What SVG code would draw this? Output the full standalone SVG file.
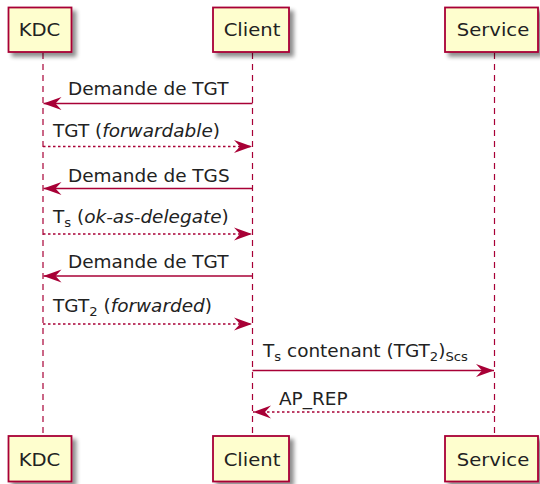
<svg xmlns="http://www.w3.org/2000/svg" width="540" height="484" viewBox="0 0 540 484">
<defs>
<filter id="sh" x="-20%" y="-20%" width="150%" height="160%">
<feGaussianBlur in="SourceAlpha" stdDeviation="2"/>
<feOffset dx="4" dy="4" result="b"/>
<feComponentTransfer><feFuncA type="linear" slope="0.45"/></feComponentTransfer>
<feMerge><feMergeNode/><feMergeNode in="SourceGraphic"/></feMerge>
</filter>
<marker id="ah" viewBox="0 0 18 14" refX="18" refY="7" markerWidth="18" markerHeight="14" markerUnits="userSpaceOnUse" orient="auto">
<polygon points="18,7 0,0.5 6,7 0,13.5" fill="#A80036"/>
</marker>
</defs>
<style>
.box{fill:#FEFECE;stroke:#A80036;stroke-width:1.8}
.life{stroke:#A80036;stroke-width:1.2;stroke-dasharray:6,5;fill:none}
.pt{font-family:"DejaVu Sans",sans-serif;font-size:18.5px;fill:#222;text-anchor:middle}
.mt{font-family:"DejaVu Sans",sans-serif;font-size:17.5px;fill:#222}
.sub{font-size:12.5px}
.sol{stroke:#A80036;stroke-width:1.3;fill:none;marker-end:url(#ah)}
.dot{stroke:#A80036;stroke-width:1.3;fill:none;stroke-dasharray:2.5,2.5;marker-end:url(#ah)}
</style>
<g id="lifelines">
<line class="life" x1="43" y1="53" x2="43" y2="436"/>
<line class="life" x1="252.5" y1="53" x2="252.5" y2="436"/>
<line class="life" x1="494.5" y1="53" x2="494.5" y2="436"/>
</g>
<g id="KDC">
<rect class="box" x="8.5" y="7.5" width="63" height="44.5" filter="url(#sh)"/>
<text class="pt" transform="translate(39.5,36) scale(1.06,1)">KDC</text>
<rect class="box" x="8.5" y="436" width="63" height="45.5" filter="url(#sh)"/>
<text class="pt" transform="translate(39.5,466) scale(1.06,1)">KDC</text>
</g>
<g id="Client">
<rect class="box" x="213" y="7.5" width="76" height="44.5" filter="url(#sh)"/>
<text class="pt" transform="translate(252,36) scale(1.06,1)">Client</text>
<rect class="box" x="213" y="436" width="76" height="45.5" filter="url(#sh)"/>
<text class="pt" transform="translate(252,466) scale(1.06,1)">Client</text>
</g>
<g id="Service">
<rect class="box" x="445" y="7.5" width="93" height="44.5" filter="url(#sh)"/>
<text class="pt" transform="translate(493,36) scale(1.06,1)">Service</text>
<rect class="box" x="445" y="436" width="93" height="45.5" filter="url(#sh)"/>
<text class="pt" transform="translate(493,466) scale(1.06,1)">Service</text>
</g>
<g id="connectors">
<line class="sol" x1="252.5" y1="103.5" x2="43.5" y2="103.5"/>
<text class="mt" transform="translate(68,95) scale(1.055,1)">Demande de TGT</text>
<line class="dot" x1="43" y1="146.5" x2="252" y2="146.5"/>
<text class="mt" transform="translate(53,137) scale(1.055,1)">TGT (<tspan font-style="italic">forwardable</tspan>)</text>
<line class="sol" x1="252.5" y1="188.5" x2="43.5" y2="188.5"/>
<text class="mt" transform="translate(68,181.5) scale(1.055,1)">Demande de TGS</text>
<line class="dot" x1="43" y1="234" x2="252" y2="234"/>
<text class="mt" transform="translate(53,223) scale(1.055,1)">T<tspan class="sub" dy="4">s</tspan><tspan dy="-4"> (</tspan><tspan font-style="italic">ok-as-delegate</tspan>)</text>
<line class="sol" x1="252.5" y1="276" x2="43.5" y2="276"/>
<text class="mt" transform="translate(68,268) scale(1.055,1)">Demande de TGT</text>
<line class="dot" x1="43" y1="324" x2="252" y2="324"/>
<text class="mt" transform="translate(53,311.5) scale(1.055,1)">TGT<tspan class="sub" dy="4">2</tspan><tspan dy="-4"> (</tspan><tspan font-style="italic">forwarded</tspan>)</text>
<line class="sol" x1="252.5" y1="370.5" x2="494" y2="370.5"/>
<text class="mt" transform="translate(263,356.5) scale(1.055,1)">T<tspan class="sub" dy="4">s</tspan><tspan dy="-4"> contenant (TGT</tspan><tspan class="sub" dy="4">2</tspan><tspan dy="-4">)</tspan><tspan class="sub" dy="4">Scs</tspan></text>
<line class="dot" x1="494.5" y1="412" x2="253" y2="412"/>
<text class="mt" transform="translate(279,405) scale(1.055,1)">AP_REP</text>
</g>
</svg>
